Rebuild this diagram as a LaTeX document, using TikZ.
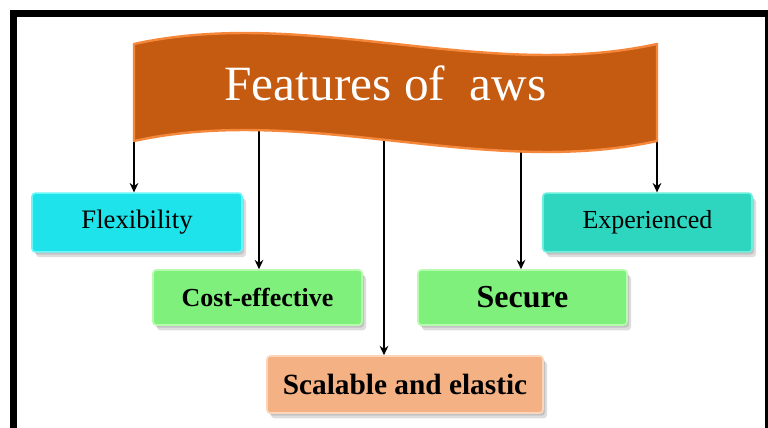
\documentclass[tikz,border=0pt]{standalone}
\usepackage{fontspec}
\setmainfont{Liberation Serif}
\usetikzlibrary{shadows,arrows.meta}
\definecolor{bannerfill}{HTML}{C55A11}
\definecolor{banneredge}{HTML}{F5873A}
\definecolor{cyanbox}{HTML}{1EE3EA}
\definecolor{cyanedge}{HTML}{6AF7FA}
\definecolor{tealbox}{HTML}{2ED6C0}
\definecolor{tealedge}{HTML}{6CEFDD}
\definecolor{greenbox}{HTML}{80F07C}
\definecolor{greenedge}{HTML}{B6FBAE}
\definecolor{salmonbox}{HTML}{F4B183}
\definecolor{salmonedge}{HTML}{FBD6BA}
\begin{document}
\begin{tikzpicture}[x=0.75pt,y=-0.75pt,
  featbox/.style={rounded corners=2.5pt, line width=1.2pt, inner sep=0pt,
    double copy shadow={shadow xshift=1.5pt, shadow yshift=-2pt, opacity=0.22, fill=black!60, draw=none}},
  cyanstyle/.style={featbox, fill=cyanbox, draw=cyanedge},
  tealstyle/.style={featbox, fill=tealbox, draw=tealedge},
  greenstyle/.style={featbox, fill=greenbox, draw=greenedge},
  salmonstyle/.style={featbox, fill=salmonbox, draw=salmonedge},
  arr/.style={line width=1.3pt, -{Stealth[length=7pt,width=6.5pt]}}]
\useasboundingbox (0,0) rectangle (768,428);
\clip (0,0) rectangle (768,428);
\fill[white] (0,0) rectangle (768,428);
% frame
\draw[line width=5.25pt] (13.5,13.5) rectangle (768.5,450);

% boxes
\node[cyanstyle, minimum width=157.5pt, minimum height=44pt] (flex) at (137,222.5)
  {\fontsize{20}{24}\selectfont Flexibility};
\node[greenstyle, minimum width=156.75pt, minimum height=41.25pt] (cost) at (257.5,297.5)
  {\fontsize{19.5}{24}\selectfont\bfseries Cost-effective};
\node[salmonstyle, minimum width=207pt, minimum height=42.75pt] (scal) at (405,384.5)
  {\fontsize{22}{26}\selectfont\bfseries Scalable and elastic};
\node[greenstyle, minimum width=156.75pt, minimum height=41.25pt] (sec) at (522.5,297.5)
  {\fontsize{24}{28}\selectfont\bfseries Secure};
\node[tealstyle, minimum width=156.75pt, minimum height=44pt] (exp) at (647.5,222.5)
  {\fontsize{19.5}{24}\selectfont Experienced};

% arrow start points (hidden under the banner)
\coordinate (b1) at (134,132);
\coordinate (b2) at (259,124);
\coordinate (b3) at (384,134);
\coordinate (b4) at (521,145);
\coordinate (b5) at (657,136);
\draw[arr] (b1) -- (b1 |- flex.north);
\draw[arr] (b2) -- (b2 |- cost.north);
\draw[arr] (b3) -- (b3 |- scal.north);
\draw[arr] (b4) -- (b4 |- sec.north);
\draw[arr] (b5) -- (b5 |- exp.north);

% banner
\draw[fill=bannerfill, draw=banneredge, line width=1.8pt, line join=round]
  (134,44) .. controls (308,6) and (483,82) .. (657,44)
  -- (657,141) .. controls (483,179) and (308,103) .. (134,141) -- cycle;
\node[anchor=base, text=white, inner sep=0pt] (title) at (385.5,101)
  {\fontsize{37}{41}\selectfont Features of\ \ aws};
\end{tikzpicture}
\end{document}
